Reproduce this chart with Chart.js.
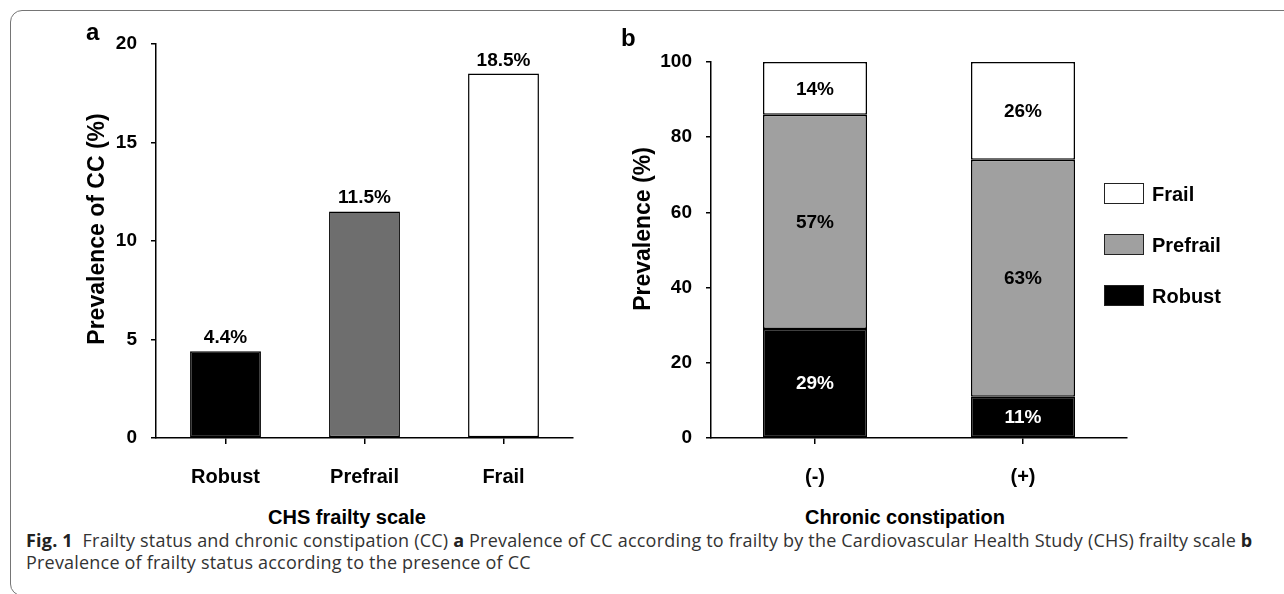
<!DOCTYPE html>
<html>
<head>
<meta charset="utf-8">
<script src="https://cdn.jsdelivr.net/npm/chart.js@4.4.1/dist/chart.umd.min.js"></script>
<style>
  html, body { margin: 0; padding: 0; background: #fff; width: 1284px; height: 594px; overflow: hidden; position: relative; }
  .frame { position: absolute; left: 10px; top: 10px; width: 1320px; height: 586px; border: 1.5px solid #757575; border-radius: 12px; box-sizing: border-box; }
  canvas { position: absolute; top: 0; }
  .t { position: absolute; font-family: "Liberation Sans", Arial, sans-serif; font-weight: bold; color: #000; white-space: nowrap; line-height: 1; }
  .rot { transform: translate(-50%, -50%) rotate(-90deg); }
  .ctr { transform: translate(-50%, -50%); }
  .caption { position: absolute; left: 26px; top: 529px; font-family: "Open Sans", sans-serif; font-size: 18px; line-height: 22px; color: #333; white-space: nowrap; letter-spacing: 0.2px; }
  .caption b { font-weight: 700; color: #222; }
  .legend { position: absolute; left: 1104px; top: 183px; }
  .legend .item { position: absolute; left: 0; height: 21px; white-space: nowrap; }
  .legend .box { position: absolute; left: 0; top: 0; width: 40px; height: 21px; box-sizing: border-box; border: 1.5px solid #222; }
  .legend .lab { position: absolute; left: 48px; top: 10.5px; transform: translateY(-50%); font-family: "Liberation Sans", Arial, sans-serif; font-weight: bold; font-size: 20px; line-height: 1; color: #000; }
</style>
</head>
<body>
<div class="frame"></div>
<canvas id="ca" width="600" height="500" style="left:0"></canvas>
<canvas id="cb" width="684" height="500" style="left:600px"></canvas>

<div class="t" style="left:86px; top:20px; font-size:24px;">a</div>
<div class="t" style="left:621px; top:26px; font-size:24px;">b</div>
<div class="t rot" style="left:96px; top:229px; font-size:23px;">Prevalence of CC (%)</div>
<div class="t rot" style="left:642px; top:229px; font-size:23px;">Prevalence (%)</div>
<div class="t ctr" style="left:347px; top:517px; font-size:20px;">CHS frailty scale</div>
<div class="t ctr" style="left:905px; top:517px; font-size:20px;">Chronic constipation</div>
<div class="legend" id="legend"></div>

<div class="caption"><b>Fig. 1</b>&nbsp;&nbsp;Frailty status and chronic constipation (CC) <b>a</b> Prevalence of CC according to frailty by the Cardiovascular Health Study (CHS) frailty scale <b>b</b><br>Prevalence of frailty status according to the presence of CC</div>

<script>
// ---- Data ----
const frailtyCategories = ["Robust", "Prefrail", "Frail"];
const ccPrevalence = [4.4, 11.5, 18.5];
const ccColors = ["#000000", "#6e6e6e", "#ffffff"];
const ticksA = [0, 5, 10, 15, 20];

const constipationCategories = ["(-)", "(+)"];
const robustShare = [29, 11];
const prefrailShare = [57, 63];
const frailShare = [14, 26];
const ticksB = [0, 20, 40, 60, 80, 100];

const FONT = '"Liberation Sans", Arial, sans-serif';
Chart.defaults.color = '#000';
Chart.defaults.font.family = FONT;
Chart.defaults.font.weight = 'bold';

const LW = 1.5;

function axisX(extra) {
  return Object.assign({
    offset: true,
    grid: { display: true, drawOnChartArea: false, drawTicks: true, tickLength: 6, offset: false, color: '#000', lineWidth: LW },
    border: { display: true, color: '#000', width: LW },
    ticks: { font: { size: 20, weight: 'bold', family: FONT }, color: '#000', padding: 21, maxRotation: 0, autoSkip: false },
    afterFit: s => { s.height = 62; }
  }, extra || {});
}
function axisY(tickValues, width) {
  return {
    min: tickValues[0], max: tickValues[tickValues.length - 1],
    grid: { display: true, drawOnChartArea: false, drawTicks: true, tickLength: 5, color: '#000', lineWidth: LW },
    border: { display: true, color: '#000', width: LW },
    ticks: { stepSize: tickValues[1] - tickValues[0], font: { size: 19, weight: 'bold', family: FONT }, color: '#000', padding: 14 },
    afterBuildTicks: s => { s.ticks = tickValues.map(v => ({ value: v })); },
    afterFit: s => { s.width = width; }
  };
}

// labels above bars (panel a)
const topLabels = {
  id: 'topLabels',
  afterDatasetsDraw(chart) {
    const ctx = chart.ctx;
    ctx.save();
    ctx.font = 'bold 19px ' + FONT;
    ctx.fillStyle = '#000';
    ctx.textAlign = 'center';
    ctx.textBaseline = 'alphabetic';
    chart.data.datasets.forEach((ds, di) => {
      chart.getDatasetMeta(di).data.forEach((bar, i) => {
        ctx.fillText(ds.data[i].toFixed(1) + '%', bar.x, bar.y - 8);
      });
    });
    ctx.restore();
  }
};

// labels centred in stacked segments (panel b)
const midLabels = {
  id: 'midLabels',
  afterDatasetsDraw(chart) {
    const ctx = chart.ctx;
    ctx.save();
    ctx.font = 'bold 19px ' + FONT;
    ctx.textAlign = 'center';
    ctx.textBaseline = 'middle';
    chart.data.datasets.forEach((ds, di) => {
      chart.getDatasetMeta(di).data.forEach((bar, i) => {
        ctx.fillStyle = ds.labelColor;
        ctx.fillText(ds.data[i] + '%', bar.x, (bar.y + bar.base) / 2 + 1);
      });
    });
    ctx.restore();
  }
};

new Chart(document.getElementById('ca'), {
  type: 'bar',
  data: {
    labels: frailtyCategories,
    datasets: [{
      label: 'Prevalence of CC',
      data: ccPrevalence,
      backgroundColor: ccColors,
      borderColor: '#000',
      borderWidth: LW,
      borderSkipped: false,
      categoryPercentage: 1,
      barPercentage: 0.51
    }]
  },
  options: {
    responsive: false, animation: false, devicePixelRatio: 1,
    layout: { padding: { left: 76, right: 27, top: 44, bottom: 0 } },
    plugins: { legend: { display: false }, tooltip: { enabled: false } },
    scales: { x: axisX(), y: axisY(ticksA, 80) }
  },
  plugins: [topLabels]
});

const datasetsB = [
  { label: 'Robust', data: robustShare, backgroundColor: '#000000', labelColor: '#fff' },
  { label: 'Prefrail', data: prefrailShare, backgroundColor: '#a0a0a0', labelColor: '#000' },
  { label: 'Frail', data: frailShare, backgroundColor: '#ffffff', labelColor: '#000' }
].map(d => Object.assign(d, { borderColor: '#000', borderWidth: LW, borderSkipped: false, categoryPercentage: 1, barPercentage: 0.5 }));

new Chart(document.getElementById('cb'), {
  type: 'bar',
  data: { labels: constipationCategories, datasets: datasetsB },
  options: {
    responsive: false, animation: false, devicePixelRatio: 1,
    layout: { padding: { left: 51, right: 157, top: 62, bottom: 0 } },
    plugins: { legend: { display: false }, tooltip: { enabled: false } },
    scales: {
      x: axisX({ stacked: true }),
      y: Object.assign(axisY(ticksB, 60), { stacked: true })
    }
  },
  plugins: [midLabels]
});

// legend (reverse order: Frail, Prefrail, Robust)
const legend = document.getElementById('legend');
datasetsB.slice().reverse().forEach((d, i) => {
  const item = document.createElement('div');
  item.className = 'item';
  item.style.top = (i * 51) + 'px';
  const box = document.createElement('div');
  box.className = 'box';
  box.style.background = d.backgroundColor;
  const lab = document.createElement('div');
  lab.className = 'lab';
  lab.textContent = d.label;
  item.appendChild(box); item.appendChild(lab);
  legend.appendChild(item);
});
</script>
</body>
</html>
